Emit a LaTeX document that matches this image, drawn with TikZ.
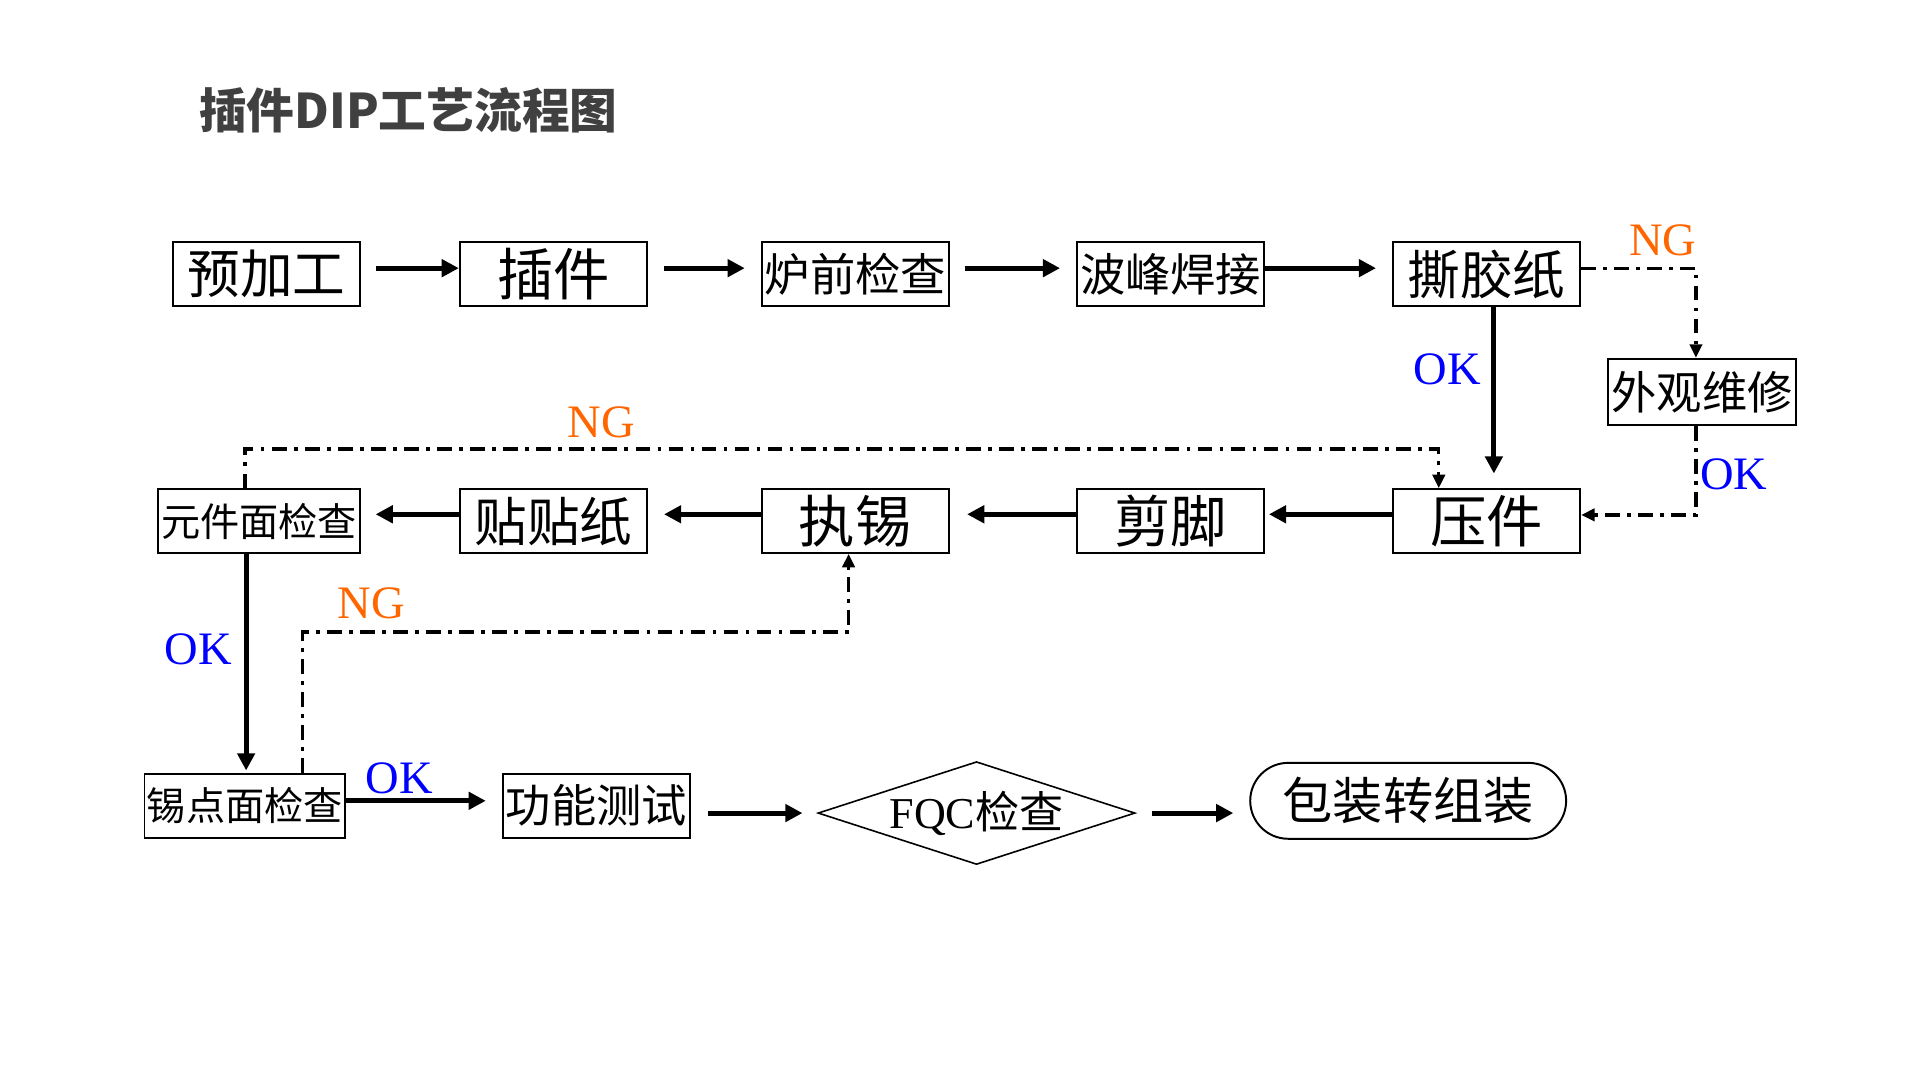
\documentclass[tikz,border=0pt]{standalone}
\usepackage{fontspec}
\setmainfont{Liberation Serif}
\newfontfamily\cjk{Noto Sans CJK SC}
\usetikzlibrary{arrows.meta,shapes.geometric}
\definecolor{ngorange}{HTML}{FF6600}
\definecolor{okblue}{HTML}{0000FF}
\definecolor{titlegray}{HTML}{404040}
\tikzset{
  box/.style={draw, line width=1.6pt, minimum width=153pt, minimum height=52pt, inner sep=0pt},
  txtl/.style={font=\cjk\fontsize{46}{46}\selectfont},
  txtm/.style={font=\cjk\fontsize{43}{43}\selectfont},
  txts/.style={font=\cjk\fontsize{37}{37}\selectfont},
  txtxs/.style={font=\cjk\fontsize{32}{32}\selectfont},
  flow/.style={line width=4pt, -{Triangle[length=14pt,width=14pt]}},
  back/.style={line width=2.7pt, dash pattern=on 12pt off 6pt on 3pt off 6pt, -{Triangle[length=11pt,width=10pt]}},
  ng/.style={text=ngorange, font=\fontsize{38}{38}\selectfont, inner sep=0pt},
  ok/.style={text=okblue, font=\fontsize{38}{38}\selectfont, inner sep=0pt},
}
\begin{document}
\begin{tikzpicture}[x=1pt, y=-1pt, line join=miter]
\useasboundingbox (0,0) rectangle (1568,882);
% title
\node[anchor=west, text=titlegray, font=\cjk\bfseries\fontsize{39}{39}\selectfont] (title) at (159,90) {插件DIP工艺流程图};
% first row
\node[box, txtm] (yjg) at (217.5,224) {预加工};
\node[box, txtl] (cj) at (452,224) {插件};
\node[box, txts] (lq) at (698.5,224) {炉前检查};
\node[box, txts] (bf) at (956,224) {波峰焊接};
\node[box, txtm] (sj) at (1214,224) {撕胶纸};
\node[box, txts, minimum width=154pt, minimum height=54pt] (wg) at (1390,320) {外观维修};
% second row
\node[box, txtl] (yj) at (1214,425.5) {压件};
\node[box, txtl] (jj) at (956,425.5) {剪脚};
\node[box, txtl] (zx) at (698.5,425.5) {执锡};
\node[box, txtm] (tt) at (452,425.5) {贴贴纸};
\node[box, txtxs, minimum width=165pt] (yc) at (211.5,425.5) {元件面检查};
% third row
\node[box, txtxs, minimum width=164pt] (xd) at (200,658) {锡点面检查};
\node[box, txts] (gn) at (487,658) {功能测试};
\node[draw, diamond, line width=1.3pt, aspect=3.08, minimum width=259pt, minimum height=84pt, inner sep=0pt, font=\fontsize{36}{36}\selectfont] (fqc) at (797.5,664) {FQC{\cjk 检查}};
\node[draw, line width=1.6pt, rounded corners=31pt, minimum width=258pt, minimum height=62pt, inner sep=0pt, font=\cjk\fontsize{41}{41}\selectfont] (bz) at (1150,654) {包装转组装};
% flow arrows
\draw[flow, shorten <=12pt] ([yshift=5pt]yjg.east) -- ([yshift=5pt]cj.west);
\draw[flow, shorten <=13pt, shorten >=13pt] ([yshift=5pt]cj.east) -- ([yshift=5pt]lq.west);
\draw[flow, shorten <=12pt, shorten >=13pt] ([yshift=5pt]lq.east) -- ([yshift=5pt]bf.west);
\draw[flow, shorten >=13pt] ([yshift=5pt]bf.east) -- ([yshift=5pt]sj.west);
\draw[flow, shorten >=12pt] ([xshift=6pt]sj.south) -- ([xshift=6pt]yj.north);
\draw[flow, shorten >=3pt] ([yshift=5.5pt]yj.west) -- ([yshift=5.5pt]jj.east);
\draw[flow, shorten >=14pt] ([yshift=5.5pt]jj.west) -- ([yshift=5.5pt]zx.east);
\draw[flow, shorten >=13pt] ([yshift=5.5pt]zx.west) -- ([yshift=5.5pt]tt.east);
\draw[flow, shorten >=12pt] ([yshift=5.5pt]tt.west) -- ([yshift=5.5pt]yc.east);
\draw[flow, shorten >=2pt] ([xshift=-10.5pt]yc.south) -- ([xshift=-10.5pt]yc.south |- xd.north);
\draw[flow, shorten >=13pt] ([yshift=4pt]xd.east) -- ([yshift=4pt]xd.east -| gn.west);
\draw[flow, shorten <=14pt, shorten >=12pt] (gn.east |- fqc.west) -- (fqc.west);
\draw[flow, shorten <=13pt, shorten >=13pt] (fqc.east) -- (fqc.east -| bz.west);
% NG / OK loops
\draw[back] ([yshift=5pt]sj.east) -| ([xshift=-5pt]wg.north);
\draw[back] ([xshift=-5pt]wg.south) |- ([yshift=5pt]yj.east);
\draw[back] ([xshift=-11.5pt]yc.north) -- ++(0,-32) -| ([xshift=-39pt]yj.north);
\draw[back] ([xshift=47pt]xd.north) -- ++(0,-115) -| ([xshift=-5.5pt]zx.south);
% labels
\node[ng] (ng1) at (1358,196) {NG};
\node[ok] (ok1) at (1182,302) {OK};
\node[ok] (ok2) at (1416,387) {OK};
\node[ng] (ng2) at (491,345) {NG};
\node[ok] (ok3) at (162,530) {OK};
\node[ng] (ng3) at (303,493) {NG};
\node[ok] (ok4) at (326,636) {OK};
\end{tikzpicture}
\end{document}
